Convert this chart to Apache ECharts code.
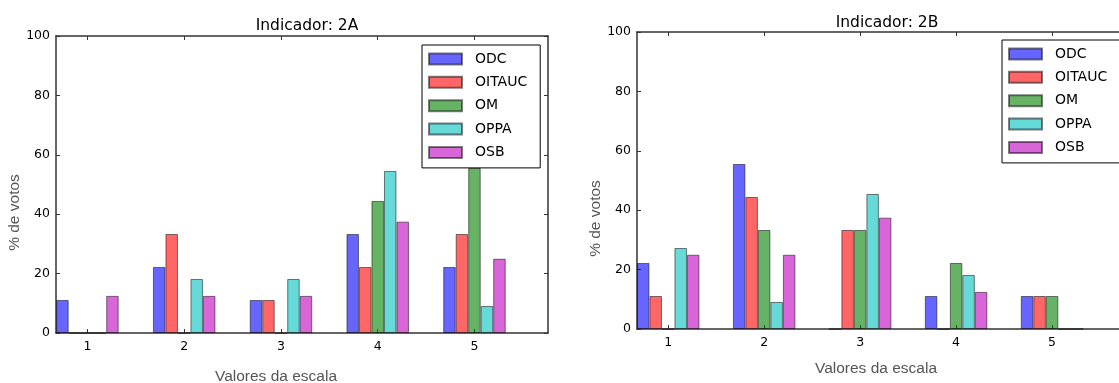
<!DOCTYPE html>
<html>
<head>
<meta charset="utf-8">
<script src="https://cdn.jsdelivr.net/npm/echarts@6/dist/echarts.min.js"></script>
<style>
  html, body { margin: 0; padding: 0; background: #fff; }
  #chart { width: 1119px; height: 383px; }
</style>
</head>
<body>
<div id="chart"></div>
<script>
// escala (eixo x) e séries
const scaleValues = [1, 2, 3, 4, 5]
const seriesNames = ['ODC', 'OITAUC', 'OM', 'OPPA', 'OSB']

// Indicador 2A (% de votos)
const odc2A = [11.11, 22.22, 11.11, 33.33, 22.22]
const oitauc2A = [0, 33.33, 11.11, 22.22, 33.33]
const om2A = [0, 0, 0, 44.44, 55.56]
const oppa2A = [0, 18.18, 18.18, 54.55, 9.09]
const osb2A = [12.5, 12.5, 12.5, 37.5, 25]

// Indicador 2B (% de votos)
const odc2B = [22.22, 55.56, 0, 11.11, 11.11]
const oitauc2B = [11.11, 44.44, 33.33, 0, 11.11]
const om2B = [0, 33.33, 33.33, 22.22, 11.11]
const oppa2B = [27.27, 9.09, 45.45, 18.18, 0]
const osb2B = [25, 25, 37.5, 12.5, 0]

const colors = [
  'rgba(0,0,255,0.6)', 'rgba(255,0,0,0.6)', 'rgba(0,128,0,0.6)',
  'rgba(0,191,191,0.6)', 'rgba(191,0,191,0.6)'
]

const chart = echarts.init(document.getElementById('chart'))

const tickFont = { fontFamily: 'DejaVu Sans', fontSize: 12.5, color: '#000' }
const frameLine = { show: true, onZero: false, lineStyle: { color: '#333', width: 1.5 } }
const X_MIN = 0.675, X_MAX = 5.76

function xAxes(gridIndex) {
  const base = {
    type: 'value', gridIndex, min: X_MIN, max: X_MAX,
    axisLine: frameLine,
    splitLine: { show: false },
    axisTick: { inside: true, length: 4, customValues: scaleValues, lineStyle: { color: '#333' } }
  }
  return [
    {
      ...base, position: 'bottom',
      axisLabel: { ...tickFont, margin: 7, customValues: scaleValues },
      name: 'Valores da escala', nameLocation: 'middle', nameGap: gridIndex === 0 ? 36 : 32,
      nameTextStyle: { fontFamily: 'Liberation Sans', fontSize: 15.5, color: '#555',
        padding: gridIndex === 0 ? [0, 52, 0, 0] : [0, 10, 0, 0] }
    },
    { ...base, position: 'top', axisLabel: { show: false } }
  ]
}

function yAxes(gridIndex) {
  const base = {
    type: 'value', gridIndex, min: 0, max: 100, interval: 20,
    axisLine: frameLine,
    splitLine: { show: false },
    axisTick: { inside: true, length: 4, lineStyle: { color: '#333' } }
  }
  return [
    {
      ...base, position: 'left',
      axisLabel: { ...tickFont, margin: 6 },
      name: '% de votos', nameLocation: 'middle', nameGap: 32,
      nameTextStyle: { fontFamily: 'Liberation Sans', fontSize: 15.5, color: '#555',
        padding: gridIndex === 0 ? [0, 56, 0, 0] : [0, 76, 0, 0] }
    },
    { ...base, position: 'right', axisLabel: { show: false } }
  ]
}

function barSeries(values, axisIndex) {
  return values.map((vals, i) => ({
    name: seriesNames[i],
    type: 'bar',
    xAxisIndex: axisIndex,
    yAxisIndex: axisIndex,
    barWidth: 12.5,
    barGap: '0%',
    data: scaleValues.map((x, k) => [x, vals[k]]),
    itemStyle: { color: colors[i], borderColor: 'rgba(0,0,0,0.5)', borderWidth: 1 }
  }))
}

function legendAt(left, top) {
  return {
    orient: 'vertical', left, top,
    data: seriesNames,
    icon: 'rect', itemWidth: 33, itemHeight: 11, itemGap: 9.35,
    backgroundColor: '#fff', borderColor: '#000', borderWidth: 1, borderRadius: 0,
    padding: [7, 13, 8.5, 6],
    selectedMode: false,
    textStyle: { fontFamily: 'DejaVu Sans', fontSize: 14, color: '#000', lineHeight: 14, padding: [0, 0, 0, 8] }
  }
}

const titleStyle = { fontFamily: 'DejaVu Sans', fontSize: 15.5, fontWeight: 'normal', color: '#000' }

chart.setOption({
  animation: false,
  backgroundColor: '#fff',
  title: [
    { text: 'Indicador: 2A', left: 302, top: 13, textAlign: 'center', textStyle: titleStyle },
    { text: 'Indicador: 2B', left: 882, top: 10, textAlign: 'center', textStyle: titleStyle }
  ],
  legend: [legendAt(422, 45), legendAt(1002, 40)],
  grid: [
    { left: 56, top: 36, width: 492, height: 297, outerBoundsMode: 'none' },
    { left: 637, top: 32, width: 488, height: 297, outerBoundsMode: 'none' }
  ],
  xAxis: [...xAxes(0), ...xAxes(1)],
  yAxis: [...yAxes(0), ...yAxes(1)],
  series: [
    ...barSeries([odc2A, oitauc2A, om2A, oppa2A, osb2A], 0),
    ...barSeries([odc2B, oitauc2B, om2B, oppa2B, osb2B], 2)
  ]
})
</script>
</body>
</html>
